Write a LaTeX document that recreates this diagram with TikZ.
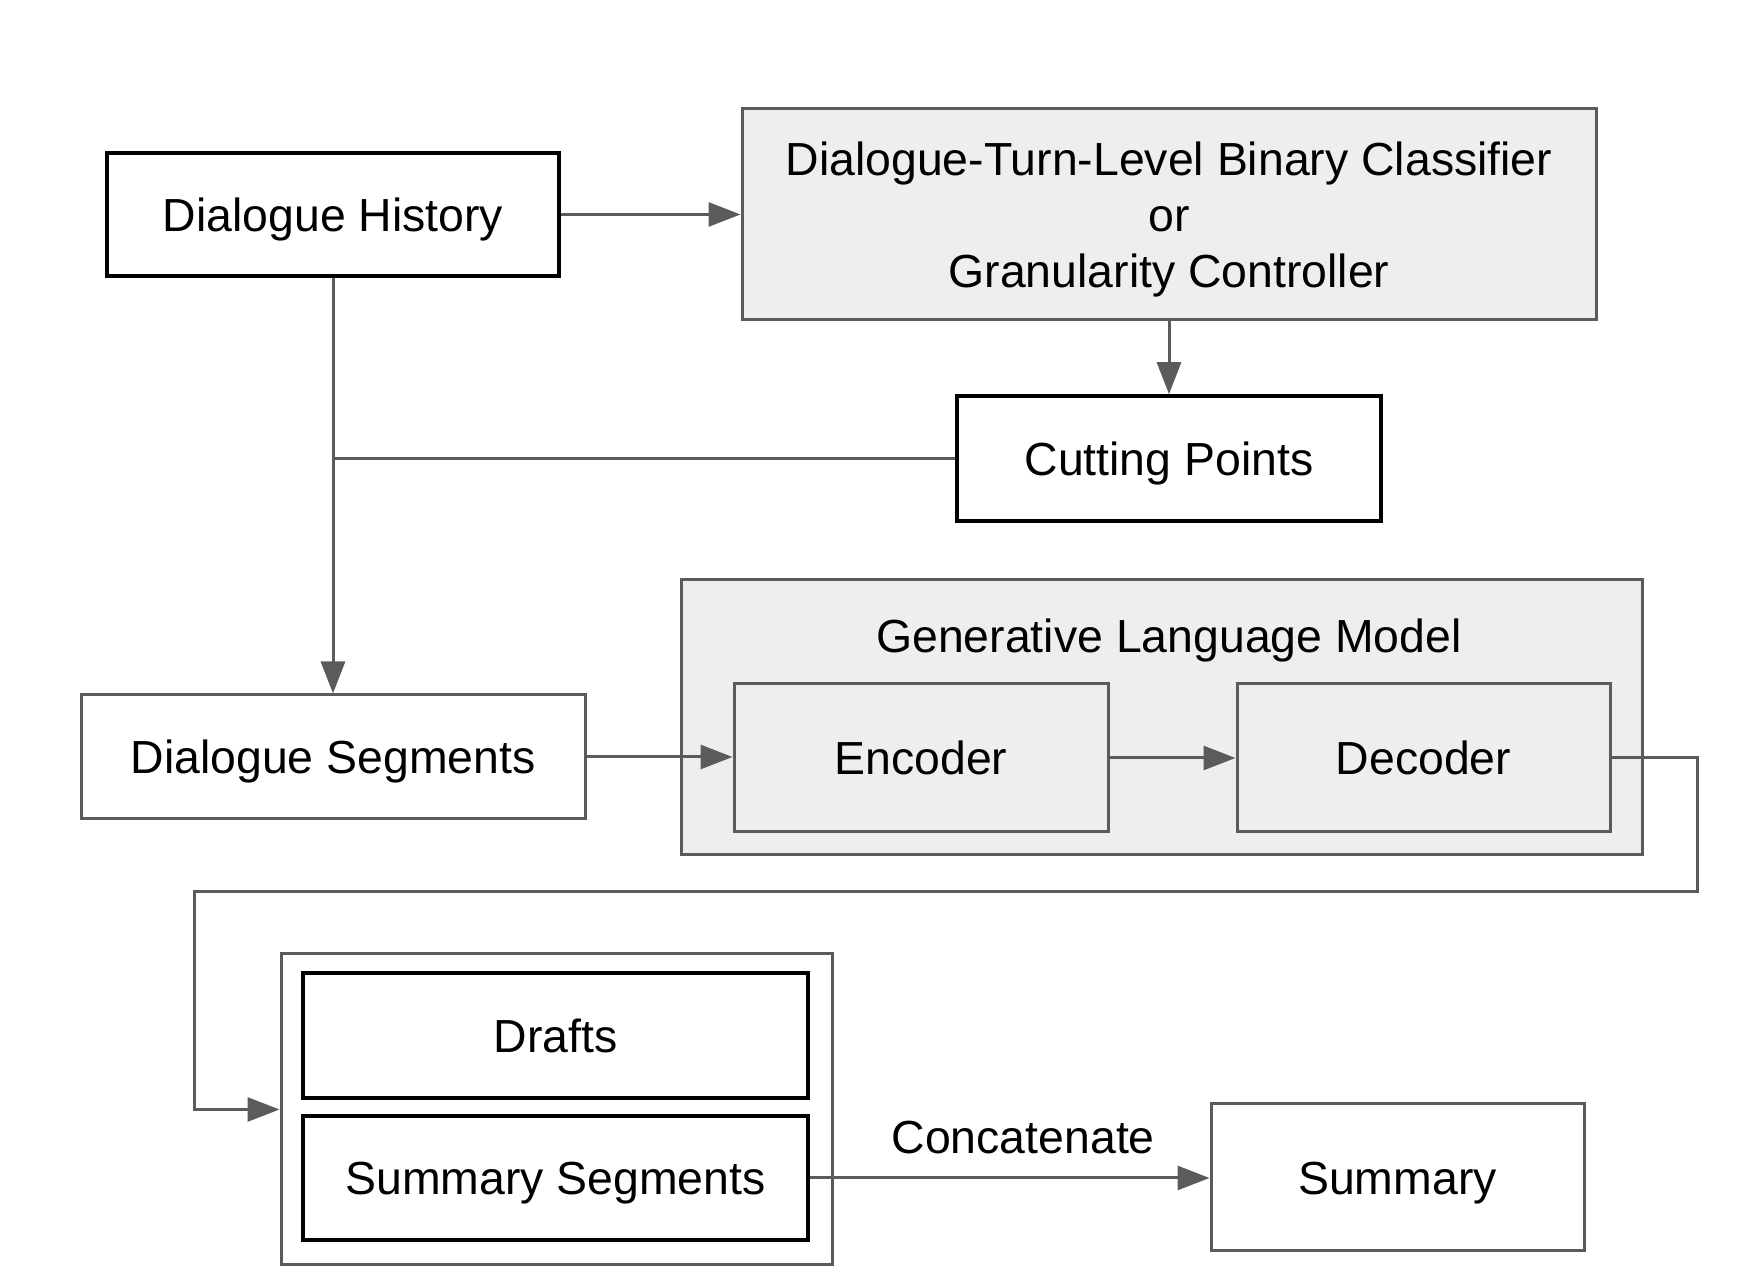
\documentclass[tikz,border=0pt]{standalone}
\usepackage{fontspec}
\setmainfont{Liberation Sans}
\usetikzlibrary{arrows.meta}
\definecolor{lngray}{HTML}{5B5B5B}
\definecolor{boxgray}{HTML}{EEEEEE}
\begin{document}
\begin{tikzpicture}[x=0.25pt,y=-0.25pt,
    font=\fontsize{11.6}{14}\selectfont,
    every node/.style={text height=8.4pt,text depth=0pt},
    blk/.style={draw=black,line width=0.9pt,inner sep=0pt,align=center},
    gbox/.style={draw=lngray,line width=0.75pt,inner sep=0pt,align=center},
    shade/.style={gbox,fill=boxgray},
    conn/.style={draw=lngray,line width=0.75pt},
    arr/.style={conn,-{Triangle[length=8pt,width=6pt]}}]
    \useasboundingbox (0,0) rectangle (1760,1280);
    % top row
    \node[blk,minimum width=113pt,minimum height=30.75pt] (hist) at (333,214.5) {Dialogue History};
    \node[shade,minimum width=213.5pt,minimum height=52.75pt,text height=36.4pt] (clf) at (1169,214.5)
        {Dialogue-Turn-Level Binary Classifier\\or\\Granularity Controller};
    \node[blk,minimum width=106pt,minimum height=31.25pt] (cut) at (1169,458.5) {Cutting Points};
    % model
    \node[shade,minimum width=240.25pt,minimum height=68.75pt] (glm) at (1161.5,717.5) {};
    \node (glmlabel) at (1169,636) {Generative Language Model};
    \node[shade,minimum width=93.5pt,minimum height=37pt] (enc) at (921,758) {Encoder};
    \node[shade,minimum width=93.25pt,minimum height=37pt] (dec) at (1423.5,758) {Decoder};
    \node[gbox,minimum width=126pt,minimum height=31pt] (seg) at (333,757) {Dialogue Segments};
    % outputs
    \node[gbox,minimum width=137.75pt,minimum height=77.75pt] (outs) at (556.5,1109.5) {};
    \node[blk,minimum width=126.25pt,minimum height=31.25pt] (drafts) at (555.5,1035.5) {Drafts};
    \node[blk,minimum width=126.25pt,minimum height=31pt] (sumseg) at (555.5,1178) {Summary Segments};
    \node[gbox,minimum width=93.25pt,minimum height=36.75pt] (summ) at (1397.5,1177.5) {Summary};
    \coordinate (turn) at (1697,892);
    \coordinate (back) at (194,892);
    % connectors
    \draw[arr] (hist.east) -- (clf.west);
    \draw[arr] (clf.south) -- (cut.north);
    \draw[arr] (hist.south) -- (seg.north);
    \draw[conn] (cut.west) -- (cut.west -| hist.south);
    \draw[arr] (seg.east) -- (seg.east -| enc.west);
    \draw[arr] (enc.east) -- (dec.west);
    \draw[arr] (dec.east) -| (turn) -- (back) |- (outs.west);
    \draw[arr] (sumseg.east) -- node[above=2.5pt,xshift=3.4pt] {Concatenate} (sumseg.east -| summ.west);
\end{tikzpicture}
\end{document}
